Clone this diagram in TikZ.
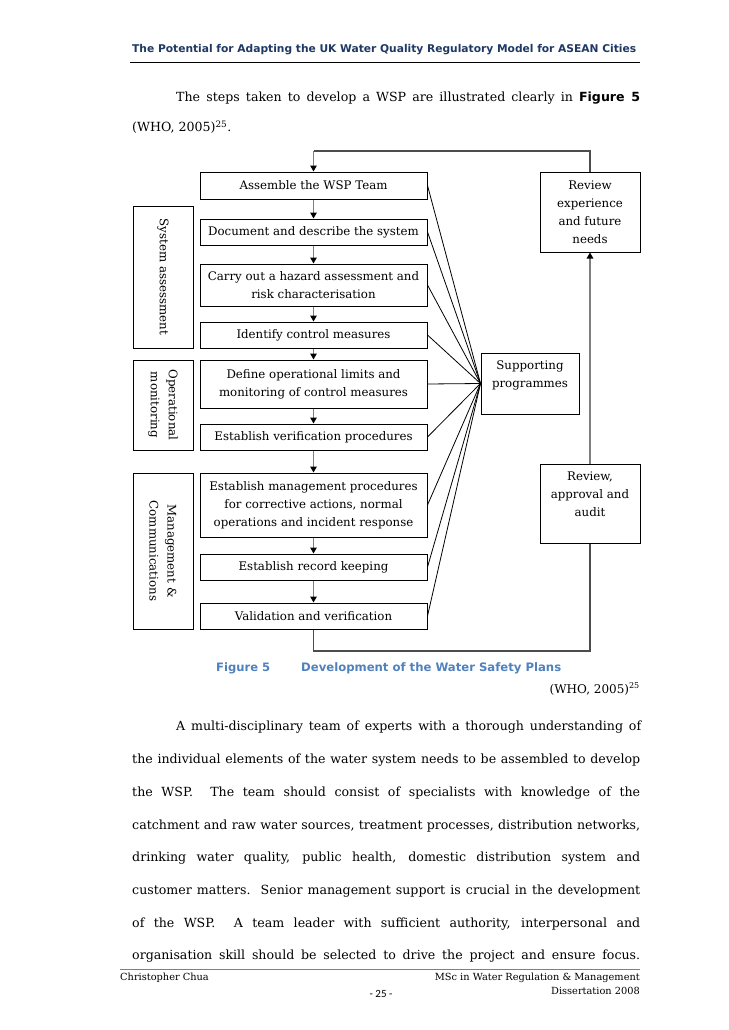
\documentclass[tikz,border=0pt]{standalone}
\usepackage{fontspec}
\setmainfont{DejaVu Serif}
\newfontfamily\hsans{DejaVu Sans}
\newfontfamily\pgfont{Carlito}
\usetikzlibrary{arrows.meta}
\definecolor{hdrblue}{HTML}{1F3864}
\definecolor{capblue}{HTML}{4F81BD}
\definecolor{flowgray}{HTML}{7F7F7F}
\newcommand{\jline}[2]{\makebox[#1][s]{#2}}
\begin{document}
\begin{tikzpicture}[x=1pt,y=-1pt,
  box/.style={draw=black, line width=1pt, inner sep=0pt, align=center, font=\fontsize{11.8}{18}\selectfont},
  flow/.style={draw=flowgray, line width=1.3pt, -{Triangle[length=6pt,width=6.5pt,color=black]}},
  loopline/.style={draw=flowgray!60!black, line width=1.2pt},
  fan/.style={draw=black, line width=0.8pt},
  body/.style={anchor=base west, inner sep=0pt, font=\fontsize{12.6}{15}\selectfont},
  small/.style={inner sep=0pt, font=\fontsize{9.8}{12}\selectfont},
]
\useasboundingbox (0,0) rectangle (728,1030);

% header
\node[anchor=base west, inner sep=0pt] (hdr) at (132,53) {\resizebox{504pt}{!}{\hsans\bfseries\color{hdrblue}The Potential for Adapting the UK Water Quality Regulatory Model for ASEAN Cities}};
\draw[line width=1pt] (130,63) -- (640,63);

% first paragraph
\node[body] (p1a) at (176,101.5) {\jline{464pt}{The steps taken to develop a WSP are illustrated clearly in {\hsans\bfseries Figure 5}}};
\node[body] (p1b) at (132,131.5) {(WHO, 2005)\textsuperscript{25}.};

% main steps
\begin{scope}[every node/.append style={box, minimum width=227pt}]
\node[minimum height=27pt] (team) at (313.5,185.5) {Assemble the WSP Team};
\node[minimum height=26pt] (doc) at (313.5,232) {Document and describe the system};
\node[minimum height=42pt] (haz) at (313.5,285) {Carry out a hazard assessment and\\risk characterisation};
\node[minimum height=26pt] (ctrl) at (313.5,335) {Identify control measures};
\node[minimum height=48pt] (lim) at (313.5,384) {Define operational limits and\\monitoring of control measures};
\node[minimum height=26pt] (ver) at (313.5,437) {Establish verification procedures};
\node[minimum height=64pt] (mgmt) at (313.5,505) {Establish management procedures\\for corrective actions, normal\\operations and incident response};
\node[minimum height=26pt] (rec) at (313.5,567) {Establish record keeping};
\node[minimum height=26pt] (val) at (313.5,616) {Validation and verification};
\end{scope}

% side groups (rotated)
\node[box, rotate=-90, minimum width=142pt, minimum height=60pt] (sys) at (163,277) {System assessment};
\node[box, rotate=-90, minimum width=90pt, minimum height=60pt] (op) at (163,405) {Operational\\monitoring};
\node[box, rotate=-90, minimum width=156pt, minimum height=60pt] (mc) at (163,551) {Management \&\\Communications};

% right boxes
\node[box, minimum width=100pt, minimum height=80pt] (rev1) at (590,212) {Review\\experience\\and future\\needs};
\node[box, minimum width=98pt, minimum height=61pt] (sp) at (530,383.5) {Supporting\\programmes\\\mbox{}};
\node[box, minimum width=100pt, minimum height=79pt] (rev2) at (590,503.5) {Review,\\approval and\\audit\\\mbox{}};

% step arrows
\draw[flow] (team.south) -- (doc.north);
\draw[flow] (doc.south) -- (haz.north);
\draw[flow] (haz.south) -- (ctrl.north);
\draw[flow] (ctrl.south) -- (lim.north);
\draw[flow] (lim.south) -- (ver.north);
\draw[flow] (ver.south) -- (mgmt.north);
\draw[flow] (mgmt.south) -- (rec.north);
\draw[flow] (rec.south) -- (val.north);

% loops
\coordinate (tl) at (313.5,151);
\coordinate (bl) at (313.5,651);
\draw[loopline] (rev1.north) |- (tl);
\draw[flow] (tl) -- (team.north);
\draw[loopline] (val.south) -- (bl) -| (rev2.south);
\draw[flow, draw=none] (rev2.south |- bl) -- (rev2.south);
\draw[flow] (rev2.north) -- (rev1.south);

% fan to supporting programmes
\foreach \n in {team,doc,haz,ctrl,lim,ver,mgmt,rec,val}
  \draw[fan] (\n.east) -- (sp.west);

% caption
\node[anchor=base west, inner sep=0pt] (capa) at (216,671) {\resizebox{54pt}{!}{\hsans\bfseries\color{capblue}Figure 5}};
\node[anchor=base west, inner sep=0pt] (capb) at (301,671) {\resizebox{260pt}{!}{\hsans\bfseries\color{capblue}Development of the Water Safety Plans}};
\node[anchor=base east, inner sep=0pt, font=\fontsize{12}{14}\selectfont] (capsrc) at (640,693) {(WHO, 2005)\textsuperscript{25}};

% second paragraph
\node[body] (l1) at (176,730.5) {\jline{465pt}{A multi-disciplinary team of experts with a thorough understanding of}};
\node[body] (l2) at (132,763.5) {\jline{508pt}{the individual elements of the water system needs to be assembled to develop}};
\node[body] (l3) at (132,796.5) {\jline{508pt}{the WSP.\ \ The team should consist of specialists with knowledge of the}};
\node[body] (l4) at (132,829.5) {\jline{508pt}{catchment and raw water sources, treatment processes, distribution networks,}};
\node[body] (l5) at (132,861.5) {\jline{508pt}{drinking water quality, public health, domestic distribution system and}};
\node[body] (l6) at (132,894.5) {\jline{508pt}{customer matters.\ \ Senior management support is crucial in the development}};
\node[body] (l7) at (132,927.5) {\jline{508pt}{of the WSP.\ \ A team leader with sufficient authority, interpersonal and}};
\node[body] (l8) at (132,959.5) {\jline{508pt}{organisation skill should be selected to drive the project and ensure focus.}};

% footer
\draw[gray, line width=0.6pt] (120,969) -- (640,969);
\node[small, anchor=base west] (fa) at (120,980) {Christopher Chua};
\node[small, anchor=base east] (fb) at (640,980) {MSc in Water Regulation \& Management};
\node[small, anchor=base east] (fc) at (640,994) {Dissertation 2008};
\node[inner sep=0pt, anchor=base, font=\pgfont\fontsize{11}{13}\selectfont] (pg) at (381,997) {- 25 -};
\end{tikzpicture}
\end{document}
